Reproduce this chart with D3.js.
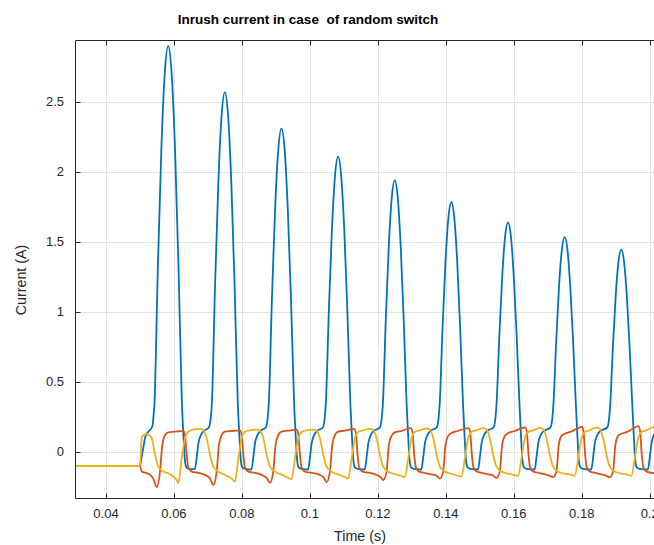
<!DOCTYPE html>
<html>
<head>
<meta charset="utf-8">
<script src="https://cdn.jsdelivr.net/npm/d3@7"></script>
<style>
  body { margin: 0; background: #ffffff; }
  svg { display: block; font-family: "Liberation Sans", Arial, Helvetica, sans-serif; }
</style>
</head>
<body>
<svg id="chart" width="654" height="545"></svg>
<script>
// Three-phase transformer inrush currents after energising at t = 50 ms.
// Samples are [time in ms, current in A].

const xTickValues = [0.04, 0.06, 0.08, 0.1, 0.12, 0.14, 0.16, 0.18, 0.2];
const xTickLabels = ["0.04", "0.06", "0.08", "0.1", "0.12", "0.14", "0.16", "0.18", "0.2"];
const yTickValues = [0, 0.5, 1, 1.5, 2, 2.5];
const yTickLabels = ["0", "0.5", "1", "1.5", "2", "2.5"];

// Phase A (saturating pulses)
const phaseA = [
  [30.0,-0.1],[50.0,-0.1],
  [50.45,-0.04],[50.98,0.03],[51.48,0.10],[52.45,0.145],[53.24,0.165],[53.70,0.19],[53.96,0.25],
  [54.25,0.34],[55.26,1.32],[56.27,2.15],[57.29,2.705],[58.30,2.90],[59.31,2.705],[60.33,2.15],[61.34,1.32],[62.35,0.34],[62.79,0.12],[63.23,-0.06],[63.67,-0.11],[64.41,-0.12],[66.14,-0.122],
  [66.73,-0.03],[67.17,0.06],[67.91,0.12],[68.79,0.15],[70.26,0.175],[70.85,0.25],[71.14,0.34],[72.10,1.194],[73.05,1.917],[74.01,2.40],[74.97,2.57],[75.93,2.40],[76.89,1.917],[77.84,1.194],[78.80,0.34],[79.24,0.12],[79.68,-0.06],[80.12,-0.11],[80.86,-0.12],[82.80,-0.125],
  [83.39,-0.03],[83.83,0.06],[84.57,0.12],[85.45,0.15],[87.01,0.175],[87.60,0.25],[87.89,0.34],[88.83,1.095],[89.76,1.733],[90.70,2.16],[91.63,2.31],[92.57,2.16],[93.50,1.733],[94.44,1.095],[95.37,0.34],[95.81,0.12],[96.25,-0.06],[96.69,-0.11],[97.43,-0.12],[99.47,-0.125],
  [100.06,-0.03],[100.50,0.06],[101.24,0.12],[102.12,0.15],[103.80,0.175],[104.39,0.25],[104.68,0.34],[105.59,1.018],[106.49,1.591],[107.40,1.975],[108.30,2.11],[109.21,1.975],[110.11,1.591],[111.02,1.018],[111.92,0.34],[112.36,0.12],[112.80,-0.06],[113.24,-0.11],[113.98,-0.12],[116.14,-0.125],
  [116.73,-0.03],[117.17,0.06],[117.91,0.12],[118.79,0.15],[120.59,0.175],[121.18,0.25],[121.47,0.34],[122.35,0.953],[123.22,1.471],[124.10,1.818],[124.97,1.94],[125.85,1.818],[126.72,1.471],[127.60,0.953],[128.47,0.34],[128.91,0.12],[129.35,-0.06],[129.79,-0.11],[130.53,-0.12],[132.80,-0.125],
  [133.39,-0.03],[133.83,0.06],[134.57,0.12],[135.45,0.15],[137.31,0.175],[137.90,0.25],[138.19,0.34],[139.05,0.893],[139.91,1.362],[140.77,1.675],[141.63,1.785],[142.49,1.675],[143.35,1.362],[144.21,0.893],[145.07,0.34],[145.51,0.12],[145.95,-0.06],[146.39,-0.11],[147.13,-0.12],[149.47,-0.125],
  [150.06,-0.03],[150.50,0.06],[151.24,0.12],[152.12,0.15],[154.04,0.175],[154.63,0.25],[154.92,0.34],[155.77,0.838],[156.61,1.259],[157.46,1.541],[158.30,1.64],[159.15,1.541],[159.99,1.259],[160.84,0.838],[161.68,0.34],[162.12,0.12],[162.56,-0.06],[163.00,-0.11],[163.74,-0.12],[166.14,-0.125],
  [166.73,-0.03],[167.17,0.06],[167.91,0.12],[168.79,0.15],[170.79,0.175],[171.38,0.25],[171.67,0.34],[172.50,0.798],[173.32,1.185],[174.15,1.444],[174.97,1.535],[175.80,1.444],[176.62,1.185],[177.45,0.798],[178.27,0.34],[178.71,0.12],[179.15,-0.06],[179.59,-0.11],[180.33,-0.12],[182.80,-0.125],
  [183.39,-0.03],[183.83,0.06],[184.57,0.12],[185.45,0.15],[187.51,0.175],[188.10,0.25],[188.39,0.34],[189.20,0.763],[190.01,1.121],[190.82,1.361],[191.63,1.445],[192.44,1.361],[193.25,1.121],[194.06,0.763],[194.87,0.34],[195.31,0.12],[195.75,-0.06],[196.19,-0.11],[196.93,-0.12],[199.47,-0.125],
  [200.06,-0.03],[200.50,0.06],[201.24,0.12],[202.12,0.15],[203.0,0.16]
];

// Phase B
const phaseB = [
  [30.0,-0.1],[50.0,-0.1],[50.5,-0.14],[52.45,-0.155],[53.92,-0.19],[54.92,-0.25],
  [55.89,-0.14],[56.57,0.05],[57.36,0.12],[58.33,0.14],[60.22,0.145],[62.75,0.15],[63.25,0.12],[63.75,-0.02],[64.22,-0.11],[65.22,-0.14],[66.99,-0.148],[69.24,-0.165],[70.62,-0.19],[71.59,-0.235],
  [72.56,-0.14],[73.24,0.05],[74.03,0.12],[75.00,0.145],[76.89,0.15],[79.42,0.155],[79.92,0.125],[80.42,-0.02],[80.89,-0.11],[81.89,-0.14],[83.66,-0.148],[85.90,-0.165],[87.28,-0.185],[88.25,-0.22],
  [89.22,-0.14],[89.90,0.05],[90.69,0.12],[91.66,0.145],[93.55,0.152],[96.08,0.16],[96.58,0.13],[97.08,-0.02],[97.55,-0.11],[98.55,-0.14],[100.32,-0.148],[102.57,-0.16],[103.95,-0.18],[104.92,-0.215],
  [105.89,-0.14],[106.57,0.05],[107.36,0.12],[108.33,0.145],[110.22,0.152],[113.04,0.165],[113.54,0.135],[114.04,-0.02],[114.51,-0.11],[115.51,-0.14],[117.28,-0.148],[119.24,-0.16],[120.62,-0.175],[121.59,-0.20],
  [122.56,-0.14],[123.24,0.05],[124.03,0.115],[125.00,0.14],[126.89,0.15],[129.71,0.17],[130.21,0.14],[130.71,-0.02],[131.18,-0.11],[132.18,-0.14],[133.95,-0.15],[135.90,-0.16],[137.28,-0.17],[138.25,-0.19],
  [139.22,-0.14],[139.90,0.05],[140.69,0.115],[141.66,0.135],[143.55,0.15],[146.67,0.17],[147.17,0.14],[147.67,-0.02],[148.14,-0.11],[149.14,-0.14],[150.91,-0.15],[152.57,-0.16],[153.95,-0.17],[154.92,-0.185],
  [155.89,-0.14],[156.57,0.05],[157.36,0.115],[158.33,0.135],[160.22,0.15],[163.34,0.175],[163.84,0.145],[164.34,-0.02],[164.81,-0.11],[165.81,-0.14],[167.58,-0.15],[169.24,-0.16],[170.62,-0.17],[171.59,-0.18],
  [172.56,-0.14],[173.24,0.05],[174.03,0.115],[175.00,0.13],[176.89,0.145],[180.01,0.18],[180.51,0.15],[181.01,-0.02],[181.48,-0.11],[182.48,-0.14],[184.25,-0.15],[185.90,-0.16],[187.28,-0.17],[188.25,-0.18],
  [189.22,-0.14],[189.90,0.05],[190.69,0.115],[191.66,0.13],[193.55,0.145],[196.67,0.185],[197.17,0.15],[197.67,-0.02],[198.14,-0.11],[199.14,-0.14],[200.91,-0.15],[203.0,-0.155]
];

// Phase C
const phaseC = [
  [30.0,-0.1],[50.0,-0.1],[50.51,0.10],[50.98,0.12],[51.98,0.127],[53.45,0.10],[54.42,-0.02],[55.39,-0.105],[56.86,-0.14],[58.34,-0.152],[59.81,-0.176],[60.81,-0.2],[61.28,-0.224],
  [62.28,-0.045],[63.25,0.098],[64.22,0.145],[65.69,0.16],[67.67,0.165],[68.64,0.157],[69.64,0.098],[70.61,-0.02],[71.58,-0.105],[73.05,-0.14],[75.02,-0.164],[77.00,-0.19],[77.95,-0.212],
  [78.95,-0.045],[79.92,0.098],[80.89,0.143],[82.36,0.155],[84.34,0.16],[85.31,0.152],[86.31,0.098],[87.28,-0.02],[88.25,-0.105],[89.72,-0.14],[91.69,-0.162],[93.67,-0.185],[94.61,-0.195],
  [95.61,-0.045],[96.58,0.098],[97.55,0.143],[99.02,0.155],[101.00,0.16],[101.97,0.152],[102.97,0.098],[103.94,-0.02],[104.91,-0.105],[106.38,-0.14],[108.35,-0.16],[110.33,-0.18],[111.28,-0.19],
  [112.28,-0.045],[113.25,0.098],[114.22,0.143],[115.69,0.155],[117.67,0.165],[118.64,0.157],[119.64,0.098],[120.61,-0.02],[121.58,-0.105],[123.05,-0.14],[125.02,-0.158],[127.00,-0.172],[127.95,-0.178],
  [128.95,-0.045],[129.92,0.098],[130.89,0.143],[132.36,0.155],[134.34,0.168],[135.31,0.16],[136.31,0.098],[137.28,-0.02],[138.25,-0.105],[139.72,-0.14],[141.69,-0.156],[143.67,-0.17],[144.61,-0.175],
  [145.61,-0.045],[146.58,0.098],[147.55,0.143],[149.02,0.155],[151.00,0.17],[151.97,0.162],[152.97,0.098],[153.94,-0.02],[154.91,-0.105],[156.38,-0.14],[158.35,-0.155],[160.33,-0.165],[161.28,-0.172],
  [162.28,-0.045],[163.25,0.098],[164.22,0.143],[165.69,0.155],[167.67,0.172],[168.64,0.165],[169.64,0.098],[170.61,-0.02],[171.58,-0.105],[173.05,-0.14],[175.02,-0.155],[177.00,-0.163],[177.95,-0.17],
  [178.95,-0.045],[179.92,0.098],[180.89,0.143],[182.36,0.155],[184.34,0.175],[185.31,0.167],[186.31,0.098],[187.28,-0.02],[188.25,-0.105],[189.72,-0.14],[191.69,-0.155],[193.67,-0.163],[194.61,-0.17],
  [195.61,-0.045],[196.58,0.098],[197.55,0.143],[199.02,0.155],[201.00,0.178],[202.0,0.175],[203.0,0.165]
];

const seriesColors = ["#0072BD", "#D95319", "#EDB120"];

// Layout
const plot = { left: 75.5, top: 40.5, right: 660.5, bottom: 498.5 };
const svg = d3.select("#chart");

const x = d3.scaleLinear().domain([0.031024, 0.20318]).range([plot.left, plot.right]);
const y = d3.scaleLinear().domain([-0.3321, 2.9393]).range([plot.bottom, plot.top]);

const axisColor = "#262626";
const gridColor = "#e3e3e3";

svg.append("defs").append("clipPath").attr("id", "plotClip")
  .append("rect")
  .attr("x", plot.left).attr("y", plot.top)
  .attr("width", plot.right - plot.left).attr("height", plot.bottom - plot.top);

// Grid
const grid = svg.append("g");
grid.selectAll("line.vx").data(xTickValues).join("line")
  .attr("x1", d => Math.round(x(d)) + 0.5).attr("x2", d => Math.round(x(d)) + 0.5)
  .attr("y1", plot.top).attr("y2", plot.bottom)
  .attr("stroke", gridColor).attr("stroke-width", 1);
grid.selectAll("line.hy").data(yTickValues).join("line")
  .attr("y1", d => Math.round(y(d)) + 0.5).attr("y2", d => Math.round(y(d)) + 0.5)
  .attr("x1", plot.left).attr("x2", plot.right)
  .attr("stroke", gridColor).attr("stroke-width", 1);

// Curves
const line = d3.line()
  .x(d => x(d[0] / 1000))
  .y(d => y(d[1]))
  .curve(d3.curveMonotoneX);

const curves = svg.append("g").attr("clip-path", "url(#plotClip)");
[phaseA, phaseB, phaseC].forEach((s, i) => {
  curves.append("path")
    .datum(s)
    .attr("d", line)
    .attr("fill", "none")
    .attr("stroke", seriesColors[i])
    .attr("stroke-width", 1.8)
    .attr("stroke-linejoin", "round");
});

// Axes box (left, bottom, top) with inward ticks
const axes = svg.append("g");
axes.append("path")
  .attr("d", `M${plot.right},${plot.top}H${plot.left}V${plot.bottom}H${plot.right}`)
  .attr("fill", "none").attr("stroke", axisColor).attr("stroke-width", 1);

const tickLen = 5;
axes.selectAll("line.xb").data(xTickValues).join("line")
  .attr("x1", d => Math.round(x(d)) + 0.5).attr("x2", d => Math.round(x(d)) + 0.5)
  .attr("y1", plot.bottom).attr("y2", plot.bottom - tickLen)
  .attr("stroke", axisColor);
axes.selectAll("line.xt").data(xTickValues).join("line")
  .attr("x1", d => Math.round(x(d)) + 0.5).attr("x2", d => Math.round(x(d)) + 0.5)
  .attr("y1", plot.top).attr("y2", plot.top + tickLen)
  .attr("stroke", axisColor);
axes.selectAll("line.yl").data(yTickValues).join("line")
  .attr("y1", d => Math.round(y(d)) + 0.5).attr("y2", d => Math.round(y(d)) + 0.5)
  .attr("x1", plot.left).attr("x2", plot.left + tickLen)
  .attr("stroke", axisColor);

// Tick labels
axes.selectAll("text.xl").data(xTickValues).join("text")
  .attr("x", d => x(d)).attr("y", 518)
  .attr("text-anchor", "middle")
  .attr("font-size", 13).attr("fill", axisColor)
  .text((d, i) => xTickLabels[i]);
axes.selectAll("text.yl").data(yTickValues).join("text")
  .attr("x", 64).attr("y", d => y(d) + 4)
  .attr("text-anchor", "end")
  .attr("font-size", 13).attr("fill", axisColor)
  .text((d, i) => yTickLabels[i]);

// Axis titles
svg.append("text")
  .attr("x", 360).attr("y", 541)
  .attr("text-anchor", "middle")
  .attr("font-size", 14.3).attr("fill", axisColor)
  .text("Time (s)");
svg.append("text")
  .attr("transform", "translate(25.5,280) rotate(-90)")
  .attr("text-anchor", "middle")
  .attr("font-size", 14.3).attr("fill", axisColor)
  .text("Current (A)");

// Title
svg.append("text")
  .attr("x", 308).attr("y", 24)
  .attr("text-anchor", "middle")
  .attr("font-size", 13.5).attr("font-weight", "bold").attr("fill", "#000")
  .attr("xml:space", "preserve")
  .style("white-space", "pre")
  .text("Inrush current in case  of random switch");
</script>
</body>
</html>
